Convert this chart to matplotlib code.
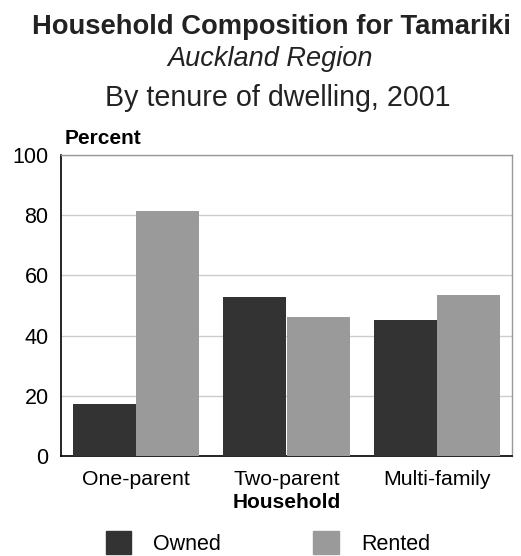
import numpy as np
import matplotlib.pyplot as plt
from matplotlib.patches import Patch

# data
categories = ["One-parent", "Two-parent", "Multi-family"]
owned = [17.3, 52.8, 45.2]
rented = [81.4, 46.2, 53.5]
series_names = ["Owned", "Rented"]
yticks = [0, 20, 40, 60, 80, 100]

DARK = "#333333"
LIGHT = "#9a9a9a"

plt.rcParams["font.family"] = ["Liberation Sans", "DejaVu Sans"]

fig = plt.figure(figsize=(5.21, 5.56), dpi=100)
ax = fig.add_axes([61 / 521, 1 - 456 / 556, 451 / 521, 301 / 556])

x = np.arange(len(categories))
w = 0.42
ax.bar(x - w / 2, owned, width=w, color=DARK, zorder=3)
ax.bar(x + w / 2, rented, width=w, color=LIGHT, zorder=3)

ax.set_xlim(-0.5, len(categories) - 0.5)
ax.set_ylim(0, 100)
ax.set_yticks(yticks)
ax.set_xticks(x)
ax.set_xticklabels(categories, fontsize=15.3)
ax.tick_params(axis="y", labelsize=15.5, length=0, pad=9)
ax.tick_params(axis="x", length=0, pad=10)
ax.grid(axis="y", color="#cccccc", linewidth=1, zorder=0)
for s in ["left", "bottom"]:
    ax.spines[s].set_color("black")
    ax.spines[s].set_linewidth(1.2)
for s in ["top", "right"]:
    ax.spines[s].set_color("#999999")
    ax.spines[s].set_linewidth(1)
ax.set_xlabel("Household", fontsize=15, fontweight="bold", labelpad=3)

fig.text(271 / 521, 1 - 27 / 556, "Household Composition for Tamariki", ha="center", va="center",
         fontsize=19.7, fontweight="bold", color="#222222")
fig.text(270 / 521, 1 - 59 / 556, "Auckland Region", ha="center", va="center",
         fontsize=19.5, fontstyle="italic", color="#222222")
fig.text(278 / 521, 1 - 98 / 556, "By tenure of dwelling, 2001", ha="center", va="center",
         fontsize=20.6, color="#222222")
fig.text(65 / 521, 1 - 138 / 556, "Percent", ha="left", va="center",
         fontsize=15, fontweight="bold")

handles = [Patch(color=DARK), Patch(color=LIGHT)]
fig.legend(handles, series_names, loc="center", bbox_to_anchor=(0.514, 1 - 543 / 556),
           ncol=2, frameon=False, fontsize=15.5, handlelength=1.2, handleheight=1.25,
           handletextpad=1.0, columnspacing=4.3, borderpad=0, borderaxespad=0)

fig.savefig("out.png", dpi=100)
